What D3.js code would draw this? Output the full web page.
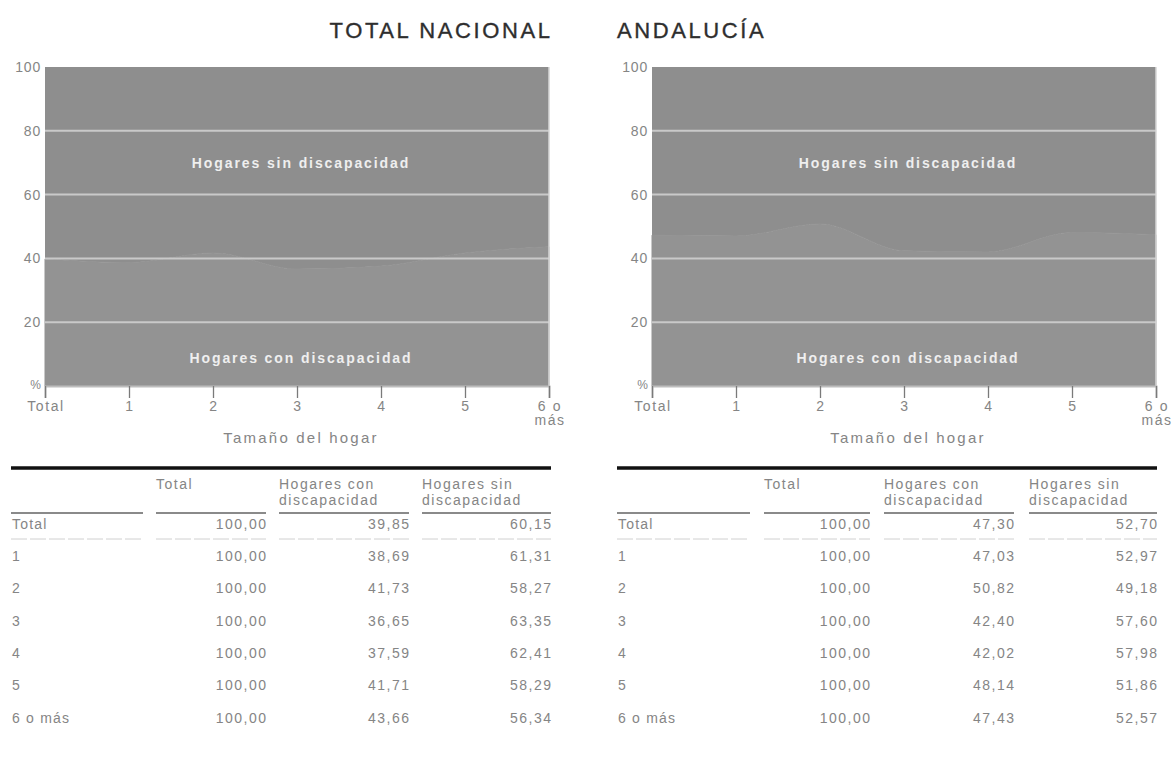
<!DOCTYPE html>
<html><head><meta charset="utf-8">
<script src="https://cdn.jsdelivr.net/npm/d3@7"></script>
<style>
body{margin:0;background:#fff;}
text{font-family:"Liberation Sans",Arial,sans-serif;}
</style></head>
<body>
<svg id="c" width="1173" height="763"></svg>
<script>
const categories = ["Total","1","2","3","4","5","6 o más"];
const nacionalTotal = [100,100,100,100,100,100,100];
const nacionalCon = [39.85,38.69,41.73,36.65,37.59,41.71,43.66];
const nacionalSin = [60.15,61.31,58.27,63.35,62.41,58.29,56.34];
const andaluciaTotal = [100,100,100,100,100,100,100];
const andaluciaCon = [47.30,47.03,50.82,42.40,42.02,48.14,47.43];
const andaluciaSin = [52.70,52.97,49.18,57.60,57.98,51.86,52.57];
const yTicks = [0,20,40,60,80,100];
const panelTitles = ["TOTAL NACIONAL","ANDALUCÍA"];
const seriesNames = ["Hogares con discapacidad","Hogares sin discapacidad"];
const colHeaders = [["Total"],["Hogares con","discapacidad"],["Hogares sin","discapacidad"]];
const xAxisTitle = "Tamaño del hogar";

const svg = d3.select("#c");
const fmt = v => v.toFixed(2).replace(".", ",");
const TXT = "#858585";

const panels = [
  {title:panelTitles[0], titleX:550, titleAnchor:"end", left:45, right:549, tot:nacionalTotal, con:nacionalCon, sin:nacionalSin,
   tbl:{cols:[[11,143],[156,266],[279,409],[422,551]]}},
  {title:panelTitles[1], titleX:617, titleAnchor:"start", left:652, right:1156, tot:andaluciaTotal, con:andaluciaCon, sin:andaluciaSin,
   tbl:{cols:[[617,750],[764,870],[884,1014],[1029,1157]]}}
];
const plotTop = 67, plotBottom = 386;

panels.forEach(p => {
  const g = svg.append("g");
  g.append("text").attr("x", p.titleX + (p.titleAnchor === "end" ? 2.6 : 0)).attr("y", 38).attr("text-anchor", p.titleAnchor)
    .attr("font-size", 22).attr("fill", "#2e2e2e").attr("stroke", "#2e2e2e").attr("stroke-width", 0.35)
    .attr("letter-spacing", "2.6").text(p.title);

  const x = d3.scalePoint().domain(categories).range([p.left, p.right]);
  const y = d3.scaleLinear().domain([0,100]).range([plotBottom, plotTop]);

  const rows = categories.map((c,i) => ({cat:c, con:p.con[i], sin:p.sin[i]}));
  const stack = d3.stack().keys(["con","sin"])(rows);
  const area = d3.area().x(d => x(d.data.cat)).y0(d => y(d[0])).y1(d => y(d[1])).curve(d3.curveMonotoneX);
  const fills = ["#939393","#8e8e8e"];
  // draw upper series first, lower one on top with matching stroke to hide the seam
  g.selectAll("path.a").data(stack.slice().reverse()).join("path").attr("class","a")
    .attr("d", area).attr("fill", d => fills[d.index])
    .attr("stroke", d => d.index === 0 ? fills[0] : "none").attr("stroke-width", 1);

  g.selectAll("line.grid").data(yTicks.filter(t => t>0 && t<100)).join("line").attr("class","grid")
    .attr("x1", p.left).attr("x2", p.right).attr("y1", d => y(d)).attr("y2", d => y(d))
    .attr("stroke", "#c9c9c9").attr("stroke-width", 2);
  g.append("line").attr("x1", p.right).attr("x2", p.right).attr("y1", plotTop).attr("y2", plotBottom)
    .attr("stroke", "#d6d6d6").attr("stroke-width", 1.5);

  g.selectAll("text.yt").data(yTicks.filter(t => t>0)).join("text").attr("class","yt")
    .attr("x", p.left - 4).attr("y", d => y(d) + 5).attr("text-anchor","end")
    .attr("font-size", 14).attr("letter-spacing", "0.8").attr("fill", TXT).text(d => d);
  g.append("text").attr("x", p.left - 4).attr("y", plotBottom + 3).attr("text-anchor","end")
    .attr("font-size", 12).attr("fill", TXT).text("%");

  const xa = g.append("g").attr("transform", `translate(0,${plotBottom})`)
    .call(d3.axisBottom(x).tickSize(12).tickFormat(""));
  xa.select(".domain").attr("stroke", "#bdbdbd").attr("stroke-width", 2);
  xa.selectAll(".tick line").attr("stroke", "#7a7a7a").attr("stroke-width", 1.3);
  categories.forEach(c => {
    const parts = c === "6 o más" ? ["6 o","más"] : [c];
    parts.forEach((t,k) => {
      g.append("text").attr("x", x(c) + 1).attr("y", plotBottom + 25 + k*14).attr("text-anchor","middle")
        .attr("font-size", 14).attr("letter-spacing", "1.6").attr("fill", TXT).text(t);
    });
  });
  g.append("text").attr("x", (p.left + p.right)/2 + 4).attr("y", 443).attr("text-anchor","middle")
    .attr("font-size", 15).attr("letter-spacing", "2.2").attr("fill", TXT).text(xAxisTitle);

  g.append("text").attr("x", (p.left+p.right)/2 + 4).attr("y", 168).attr("text-anchor","middle")
    .attr("font-size", 14).attr("font-weight","bold").attr("letter-spacing", "1.9").attr("fill", "#efefef").text(seriesNames[1]);
  g.append("text").attr("x", (p.left+p.right)/2 + 4).attr("y", 363).attr("text-anchor","middle")
    .attr("font-size", 14).attr("font-weight","bold").attr("letter-spacing", "1.9").attr("fill", "#efefef").text(seriesNames[0]);

  const t = p.tbl;
  g.append("line").attr("x1", t.cols[0][0]).attr("x2", t.cols[3][1]).attr("y1", 468).attr("y2", 468)
    .attr("stroke", "#111").attr("stroke-width", 3.5);
  colHeaders.forEach((h,i) => {
    h.forEach((line,k) => {
      g.append("text").attr("x", t.cols[i+1][0]).attr("y", 489 + k*16)
        .attr("font-size", 14).attr("letter-spacing", "1.5").attr("fill", TXT).text(line);
    });
  });
  t.cols.forEach(c => {
    g.append("line").attr("x1", c[0]).attr("x2", c[1]).attr("y1", 513).attr("y2", 513)
      .attr("stroke", "#8a8a8a").attr("stroke-width", 1.8);
  });
  categories.forEach((c,i) => {
    const yy = i === 0 ? 529 : 561 + (i-1)*32.3;
    g.append("text").attr("x", t.cols[0][0] + 1).attr("y", yy).attr("font-size", 14)
      .attr("letter-spacing", "1.2").attr("fill", TXT).text(c);
    [p.tot[i], p.con[i], p.sin[i]].forEach((v,j) => {
      g.append("text").attr("x", t.cols[j+1][1] + 1.5).attr("y", yy).attr("text-anchor","end")
        .attr("font-size", 14).attr("letter-spacing", "1.5").attr("fill", TXT).text(fmt(v));
    });
  });
  t.cols.forEach(c => {
    g.append("line").attr("x1", c[0]).attr("x2", c[1]).attr("y1", 539).attr("y2", 539)
      .attr("stroke", "#d0d0d0").attr("stroke-width", 1).attr("stroke-dasharray", "16,3");
  });
});
</script>
</body></html>
